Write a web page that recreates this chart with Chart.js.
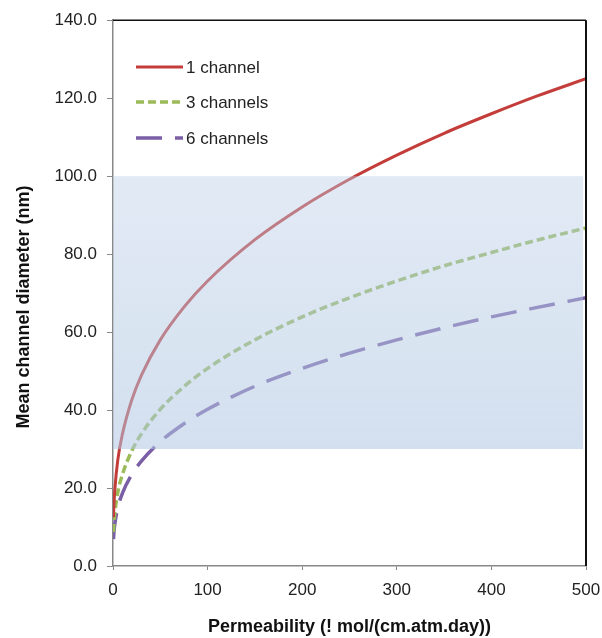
<!DOCTYPE html>
<html>
<head>
<meta charset="utf-8">
<script src="https://cdn.jsdelivr.net/npm/chart.js@4.4.1/dist/chart.umd.min.js"></script>
<style>
  body { margin: 0; background: #fff; }
  canvas { display: block; }
</style>
</head>
<body>
<canvas id="diameterChart" width="602" height="638"></canvas>
<script>
// Channel diameter vs permeability
const permeability = [0.5, 1, 2, 5, 10, 20, 30, 50, 75, 100, 150, 200, 250, 300, 350, 400, 450, 500];
const oneChannel   = [12.5, 15.8, 19.8, 27.1, 33.9, 42.7, 48.9, 58.0, 66.4, 73.1, 83.7, 92.1, 99.2, 105.4, 111.0, 116.0, 120.7, 125.0];
const threeChannels = [8.7, 10.9, 13.7, 18.8, 23.5, 29.6, 33.9, 40.2, 46.0, 50.7, 58.0, 63.9, 68.8, 73.1, 77.0, 80.4, 83.7, 86.7];
const sixChannels  = [6.9, 8.7, 10.9, 14.9, 18.7, 23.5, 26.9, 31.9, 36.5, 40.2, 46.1, 50.7, 54.6, 58.0, 61.1, 63.9, 66.4, 68.8];
const seriesNames = ['1 channel', '3 channels', '6 channels'];

// shaded target range
const bandLow = 30;
const bandHigh = 100;
const bandStart = 0;
const bandEnd = 497;

const FONT = "'Liberation Sans', Arial, sans-serif";
const yTitle = 'Mean channel diameter (nm)';

function toPoints(ys) {
  return permeability.map((p, i) => ({ x: p, y: ys[i] }));
}

// band drawn over the curves (semi-transparent) + top/right frame
const bandPlugin = {
  id: 'band',
  afterDatasetsDraw(chart) {
    const { ctx, chartArea, scales: { x, y } } = chart;
    const top = y.getPixelForValue(bandHigh);
    const bottom = y.getPixelForValue(bandLow);
    const left = x.getPixelForValue(bandStart);
    const right = x.getPixelForValue(bandEnd);
    ctx.save();
    const grad = ctx.createLinearGradient(0, top, 0, bottom);
    grad.addColorStop(0, 'rgba(185,205,230,0.42)');
    grad.addColorStop(1, 'rgba(175,198,226,0.55)');
    ctx.fillStyle = grad;
    ctx.fillRect(left, top, right - left, bottom - top);

    ctx.strokeStyle = '#111';
    ctx.lineWidth = 1.5;
    ctx.beginPath();
    ctx.moveTo(chartArea.left, chartArea.top);
    ctx.lineTo(chartArea.right, chartArea.top);
    ctx.stroke();
    ctx.lineWidth = 2;
    ctx.beginPath();
    ctx.moveTo(chartArea.right, chartArea.top);
    ctx.lineTo(chartArea.right, chartArea.bottom);
    ctx.stroke();
    ctx.restore();
  }
};

// legend inside the plot, top-left, and the y title
const legendPlugin = {
  id: 'innerLegend',
  afterDraw(chart) {
    const { ctx } = chart;
    const rows = [67, 102, 138];
    ctx.save();
    ctx.font = '17px ' + FONT;
    ctx.textBaseline = 'middle';
    chart.data.datasets.forEach((ds, i) => {
      ctx.strokeStyle = ds.borderColor;
      ctx.lineWidth = ds.borderWidth;
      ctx.setLineDash(ds.borderDash || []);
      ctx.beginPath();
      ctx.moveTo(136, rows[i]);
      ctx.lineTo(183, rows[i]);
      ctx.stroke();
      ctx.setLineDash([]);
      ctx.fillStyle = '#222';
      ctx.fillText(ds.label, 186, rows[i] + 1);
    });

    ctx.translate(24, 307);
    ctx.rotate(-Math.PI / 2);
    ctx.font = 'bold 18px ' + FONT;
    ctx.fillStyle = '#111';
    ctx.textAlign = 'center';
    ctx.fillText(yTitle, 0, 0);
    ctx.restore();
  }
};

const ctx = document.getElementById('diameterChart').getContext('2d');
const diameterChart = new Chart(ctx, {
  type: 'line',
  data: {
    datasets: [
      {
        label: seriesNames[0],
        data: toPoints(oneChannel),
        borderColor: '#c33d3a',
        borderWidth: 3,
        pointRadius: 0,
        cubicInterpolationMode: 'monotone'
      },
      {
        label: seriesNames[1],
        data: toPoints(threeChannels),
        borderColor: '#9bbb59',
        borderWidth: 3.5,
        borderDash: [8, 4],
        pointRadius: 0,
        cubicInterpolationMode: 'monotone'
      },
      {
        label: seriesNames[2],
        data: toPoints(sixChannels),
        borderColor: '#7b5fa6',
        borderWidth: 3.5,
        borderDash: [26, 13],
        pointRadius: 0,
        cubicInterpolationMode: 'monotone'
      }
    ]
  },
  options: {
    responsive: false,
    animation: false,
    layout: { padding: { top: 17, right: 16, left: 0, bottom: 0 } },
    plugins: {
      legend: { display: false },
      tooltip: { enabled: false }
    },
    scales: {
      x: {
        type: 'linear',
        min: 0,
        max: 500,
        afterFit(scale) {
          scale.height = 72;
          scale.paddingLeft = 0;
          scale.paddingRight = 0;
        },
        ticks: {
          stepSize: 100,
          color: '#222',
          padding: 10,
          font: { family: FONT, size: 17 }
        },
        grid: { drawOnChartArea: false, drawTicks: true, tickLength: 4, color: '#888' },
        border: { color: '#888', width: 1.5 },
        title: {
          display: true,
          text: 'Permeability (! mol/(cm.atm.day))',
          color: '#111',
          font: { family: FONT, size: 18, weight: 'bold' },
          padding: { top: 8, bottom: 0 }
        }
      },
      y: {
        min: 0,
        max: 140,
        afterFit(scale) { scale.width = 113; },
        ticks: {
          stepSize: 20,
          color: '#222',
          padding: 10,
          font: { family: FONT, size: 17 },
          callback: (v) => v.toFixed(1)
        },
        grid: { drawOnChartArea: false, drawTicks: true, tickLength: 6, color: '#888' },
        border: { color: '#888', width: 1.5 }
      }
    }
  },
  plugins: [bandPlugin, legendPlugin]
});
</script>
</body>
</html>
